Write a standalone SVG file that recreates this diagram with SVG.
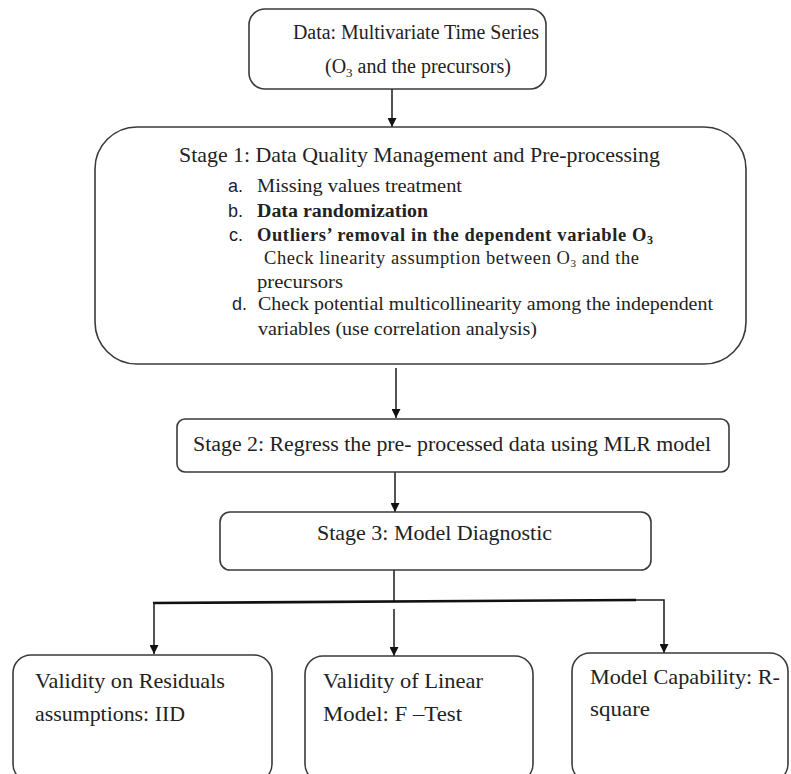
<svg xmlns="http://www.w3.org/2000/svg" width="791" height="774" viewBox="0 0 791 774">
<style>
.box{fill:#fff;stroke:#3a3a3a;stroke-width:1.6}
.t{font-family:"Liberation Serif","Times New Roman",serif;fill:#222}
.lbl{font-family:"Liberation Sans",Arial,sans-serif;font-size:18px;fill:#1c1c38}
.c{fill:none;stroke:#1a1a1a;stroke-width:1.5}
</style>
<defs>
<marker id="ah" viewBox="0 0 10 10" refX="10" refY="5" markerWidth="9" markerHeight="9" markerUnits="userSpaceOnUse" orient="auto">
<path d="M0,0 L10,5 L0,10 Z" fill="#111"/>
</marker>
</defs>
<rect width="791" height="774" fill="#fff"/>

<g id="connectors">
<line class="c" x1="392" y1="89" x2="392" y2="127" marker-end="url(#ah)"/>
<line class="c" x1="396" y1="368" x2="396" y2="418" marker-end="url(#ah)"/>
<line class="c" x1="395" y1="472" x2="395" y2="512" marker-end="url(#ah)"/>
<line class="c" x1="394" y1="570" x2="394" y2="602"/>
<line x1="153" y1="603" x2="636" y2="600" stroke="#111" stroke-width="2.6"/>
<polyline class="c" points="636,600 664,600 664,653" marker-end="url(#ah)"/>
<line class="c" x1="154" y1="603" x2="154" y2="654" marker-end="url(#ah)"/>
<line class="c" x1="394" y1="609" x2="394" y2="656" marker-end="url(#ah)"/>
</g>

<g id="node-data">
<rect class="box" x="249" y="9" width="297" height="80" rx="16"/>
<text class="t" x="293" y="39" font-size="20" textLength="246" lengthAdjust="spacingAndGlyphs">Data: Multivariate Time Series</text>
<text class="t" x="325" y="73" font-size="20">(O<tspan font-size="13" dy="4">3</tspan><tspan dy="-4"> and the precursors)</tspan></text>
</g>

<g id="node-stage1">
<rect class="box" x="95" y="127" width="651" height="237" rx="42"/>
<text class="t" x="179" y="162" font-size="21" textLength="481" lengthAdjust="spacingAndGlyphs">Stage 1: Data Quality Management and Pre-processing</text>
<text class="lbl" x="243" y="192" text-anchor="end">a.</text>
<text class="t" x="257" y="192" font-size="18" textLength="205" lengthAdjust="spacingAndGlyphs">Missing values treatment</text>
<text class="lbl" x="243" y="217" text-anchor="end">b.</text>
<text class="t" x="257" y="217" font-size="18" font-weight="bold" textLength="171" lengthAdjust="spacingAndGlyphs">Data randomization</text>
<text class="lbl" x="243" y="241" text-anchor="end">c.</text>
<text class="t" x="257" y="241" font-size="18.5" font-weight="bold" textLength="396" lengthAdjust="spacing">Outliers’ removal in the dependent variable O<tspan font-size="12" dy="3">3</tspan></text>
<text class="t" x="264" y="264" font-size="18.5" textLength="375" lengthAdjust="spacing">Check linearity assumption between O<tspan font-size="11" dy="3">3</tspan><tspan dy="-3"> and the</tspan></text>
<text class="t" x="257" y="288" font-size="18" textLength="86" lengthAdjust="spacingAndGlyphs">precursors</text>
<text class="lbl" x="247" y="310" text-anchor="end">d.</text>
<text class="t" x="258" y="310" font-size="18" textLength="455" lengthAdjust="spacingAndGlyphs">Check potential multicollinearity among the independent</text>
<text class="t" x="258" y="335" font-size="18" textLength="279" lengthAdjust="spacingAndGlyphs">variables (use correlation analysis)</text>
</g>

<g id="node-stage2">
<rect class="box" x="177" y="419" width="552" height="53" rx="8"/>
<text class="t" x="193" y="451" font-size="20" textLength="518" lengthAdjust="spacingAndGlyphs">Stage 2: Regress the pre- processed data using MLR model</text>
</g>

<g id="node-stage3">
<rect class="box" x="220" y="512" width="431" height="58" rx="10"/>
<text class="t" x="317" y="540" font-size="21" textLength="235" lengthAdjust="spacingAndGlyphs">Stage 3: Model Diagnostic</text>
</g>

<g id="node-residuals">
<rect class="box" x="13" y="655" width="259" height="127" rx="18"/>
<text class="t" x="35" y="688" font-size="22" textLength="190" lengthAdjust="spacingAndGlyphs">Validity on Residuals</text>
<text class="t" x="35" y="721" font-size="22" textLength="150" lengthAdjust="spacingAndGlyphs">assumptions: IID</text>
</g>

<g id="node-linear">
<rect class="box" x="305" y="656" width="228" height="126" rx="18"/>
<text class="t" x="323" y="688" font-size="22" textLength="160" lengthAdjust="spacingAndGlyphs">Validity of Linear</text>
<text class="t" x="323" y="721" font-size="22" textLength="139" lengthAdjust="spacingAndGlyphs">Model: F –Test</text>
</g>

<g id="node-capability">
<rect class="box" x="572" y="653" width="216" height="129" rx="18"/>
<text class="t" x="590" y="684" font-size="22" textLength="190" lengthAdjust="spacingAndGlyphs">Model Capability: R-</text>
<text class="t" x="590" y="716" font-size="22" textLength="60" lengthAdjust="spacingAndGlyphs">square</text>
</g>
</svg>
